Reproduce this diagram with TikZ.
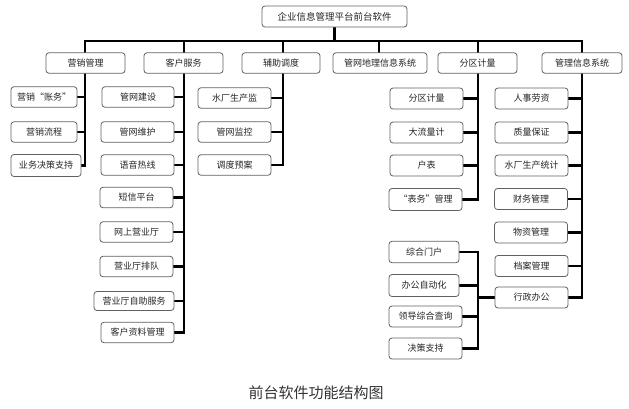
\documentclass[tikz,border=0pt]{standalone}
\usepackage{fontspec}
\setmainfont{Noto Sans CJK SC}
\usetikzlibrary{backgrounds}
\begin{document}
\begin{tikzpicture}[x=1pt,y=-1pt,
  bx/.style={draw=black!62,line width=0.8pt,rounded corners=3pt,fill=white,
    inner sep=0pt,minimum height=20.5pt,minimum width=73pt,font=\fontsize{9}{10}\selectfont,text=black!85},
  conn/.style={line width=2.2pt,black,line cap=rect}]
\useasboundingbox (0,0) rectangle (629,408);

% junction coordinates on the bus
\coordinate (j1) at (85,41);
\coordinate (j2) at (184,41);
\coordinate (j3) at (283,41);
\coordinate (j4) at (379,41);
\coordinate (j5) at (478,41);
\coordinate (j6) at (582,41);
\coordinate (k7) at (478,297.5);

% boxes
\node[bx,minimum width=145pt,minimum height=21pt,font=\fontsize{9.5}{11}\selectfont] (root) at (334.5,16.5) {企业信息管理平台前台软件};

\node[bx,minimum width=79pt] (m1) at (85.5,63) {营销管理};
\node[bx,minimum width=79pt] (m2) at (183.5,63) {客户服务};
\node[bx,minimum width=78pt] (m3) at (281,63) {辅助调度};
\node[bx,minimum width=94pt] (m4) at (380,63) {管网地理信息系统};
\node[bx,minimum width=79pt] (m5) at (477.5,63) {分区计量};
\node[bx,minimum width=80pt] (m6) at (582,63) {管理信息系统};

\node[bx,minimum width=66pt] (a1) at (44,97) {营销“账务”};
\node[bx,minimum width=66pt] (a2) at (44,132) {营销流程};
\node[bx,minimum width=70pt,minimum height=22pt] (a3) at (46,165.5) {业务决策支持};

\node[bx,minimum width=72pt] (b1) at (138,97) {管网建设};
\node[bx] (b2) at (137.5,132) {管网维护};
\node[bx] (b3) at (137.5,165) {语音热线};
\node[bx] (b4) at (136.5,197.5) {短信平台};
\node[bx] (b5) at (136.5,232) {网上营业厅};
\node[bx] (b6) at (136.5,266.5) {营业厅排队};
\node[bx,minimum width=80pt,minimum height=19pt] (b7) at (134,301) {营业厅自助服务};
\node[bx] (b8) at (137.5,332.5) {客户资料管理};

\node[bx] (c1) at (234.5,98) {水厂生产监};
\node[bx] (c2) at (234.5,132) {管网监控};
\node[bx] (c3) at (234.5,165) {调度预案};

\node[bx,minimum height=21pt] (d1) at (426.5,98.5) {分区计量};
\node[bx,minimum height=21pt] (d2) at (426.5,132.5) {大流量计};
\node[bx,minimum height=21pt] (d3) at (426.5,165.5) {户表};
\node[bx,minimum height=22pt] (d4) at (425.5,199.5) {“表务”管理};

\node[bx,minimum height=21pt] (e1) at (531.5,98.5) {人事劳资};
\node[bx,minimum height=21pt] (e2) at (531.5,132.5) {质量保证};
\node[bx,minimum height=21pt] (e3) at (531.5,165.5) {水厂生产统计};
\node[bx,minimum height=21pt] (e4) at (531,199) {财务管理};
\node[bx,minimum height=21pt] (e5) at (531,232.5) {物资管理};
\node[bx,minimum height=21pt] (e6) at (531.5,266) {档案管理};
\node[bx,minimum height=21pt] (e7) at (531.5,297.5) {行政办公};

\node[bx,minimum width=70pt,minimum height=21.5pt] (f1) at (424,252) {综合门户};
\node[bx,minimum width=70pt,minimum height=22pt] (f2) at (424,285.5) {办公自动化};
\node[bx,minimum height=21pt] (f3) at (425.5,316.5) {领导综合查询};
\node[bx,minimum height=21pt] (f4) at (425.5,348.5) {决策支持};

\node[font=\fontsize{15}{17}\selectfont,text=black!80] (cap) at (316,393) {前台软件功能结构图};

% connectors behind the boxes
\begin{scope}[on background layer]
\draw[conn] (root.south) -- (root.south |- j1);
\draw[conn] (j1) -- (j6);
% 营销管理
\draw[conn] (j1) -- (j1 |- a3.east);
\foreach \n in {a1,a2,a3} \draw[conn] (\n.east) -- (\n.east -| j1);
% 客户服务
\draw[conn] (j2) -- (j2 |- b8.east);
\foreach \n in {b1,b2,b3,b4,b5,b6,b7,b8} \draw[conn] (\n.east) -- (\n.east -| j2);
% 辅助调度
\draw[conn] (j3) -- (j3 |- c3.east);
\foreach \n in {c1,c2,c3} \draw[conn] (\n.east) -- (\n.east -| j3);
% 管网地理信息系统
\draw[conn] (j4) -- (j4 |- m4.north);
% 分区计量
\draw[conn] (j5) -- (j5 |- d4.east);
\foreach \n in {d1,d2,d3,d4} \draw[conn] (\n.east) -- (\n.east -| j5);
% 管理信息系统
\draw[conn] (j6) -- (j6 |- e7.east);
\foreach \n in {e1,e2,e3,e4,e5,e6,e7} \draw[conn] (\n.east) -- (\n.east -| j6);
% 行政办公
\draw[conn] (e7.west) -- (k7);
\draw[conn] (k7 |- f1.east) -- (k7 |- f4.east);
\foreach \n in {f1,f2,f3,f4} \draw[conn] (\n.east) -- (\n.east -| k7);
\end{scope}
\end{tikzpicture}
\end{document}
